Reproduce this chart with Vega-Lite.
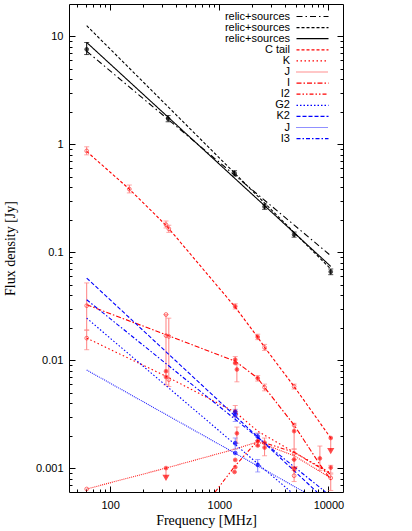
{
  "$schema": "https://vega.github.io/schema/vega-lite/v6.json",
  "width": 274,
  "height": 488,
  "autosize": {"type": "none"},
  "padding": {"left": 69, "top": 4, "right": 69, "bottom": 39},
  "background": "white",
  "config": {
    "view": {"stroke": "black", "strokeWidth": 1},
    "axis": {"grid": false, "domain": false, "tickColor": "black", "tickWidth": 1, "labelColor": "black", "labelFont": "Liberation Sans", "labelFontSize": 11, "titleColor": "black", "titleFont": "Liberation Serif", "titleFontSize": 14, "titleFontWeight": "normal"}
  },
  "datasets": {
    "lines": [
      {"s": "01 relic+sources", "f": 61, "y": 7.3},
      {"s": "01 relic+sources", "f": 10500, "y": 0.093},
      {"s": "02 relic+sources", "f": 61, "y": 12.6},
      {"s": "02 relic+sources", "f": 10500, "y": 0.070},
      {"s": "03 relic+sources", "f": 61, "y": 8.8},
      {"s": "03 relic+sources", "f": 10500, "y": 0.074},
      {"s": "04 C tail", "f": 61, "y": 0.86},
      {"s": "04 C tail", "f": 150, "y": 0.385},
      {"s": "04 C tail", "f": 330, "y": 0.175},
      {"s": "04 C tail", "f": 1400, "y": 0.031},
      {"s": "04 C tail", "f": 2250, "y": 0.0163},
      {"s": "04 C tail", "f": 2600, "y": 0.0132},
      {"s": "04 C tail", "f": 4850, "y": 0.0057},
      {"s": "04 C tail", "f": 10500, "y": 0.0019},
      {"s": "05 K", "f": 61, "y": 0.016},
      {"s": "05 K", "f": 325, "y": 0.0071},
      {"s": "05 K", "f": 741, "y": 0.0046},
      {"s": "05 K", "f": 1400, "y": 0.0033},
      {"s": "05 K", "f": 2250, "y": 0.0022},
      {"s": "05 K", "f": 4850, "y": 0.0014},
      {"s": "05 K", "f": 10500, "y": 0.0009},
      {"s": "06 J", "f": 61, "y": 0.00064},
      {"s": "06 J", "f": 325, "y": 0.001},
      {"s": "06 J", "f": 1400, "y": 0.0015},
      {"s": "06 J", "f": 2250, "y": 0.00175},
      {"s": "06 J", "f": 4850, "y": 0.0013},
      {"s": "06 J", "f": 10500, "y": 0.00081},
      {"s": "07 I", "f": 61, "y": 0.0326},
      {"s": "07 I", "f": 325, "y": 0.0172},
      {"s": "07 I", "f": 741, "y": 0.0125},
      {"s": "07 I", "f": 1400, "y": 0.0098},
      {"s": "07 I", "f": 2250, "y": 0.0068},
      {"s": "07 I", "f": 2600, "y": 0.0056},
      {"s": "07 I", "f": 4850, "y": 0.0025},
      {"s": "07 I", "f": 8350, "y": 0.00108},
      {"s": "07 I", "f": 10500, "y": 0.00078},
      {"s": "08 I2", "f": 916, "y": 0.0006},
      {"s": "08 I2", "f": 1400, "y": 0.00105},
      {"s": "08 I2", "f": 2250, "y": 0.0018},
      {"s": "08 I2", "f": 4850, "y": 0.0014},
      {"s": "08 I2", "f": 10500, "y": 0.00088},
      {"s": "09 G2", "f": 61, "y": 0.0245},
      {"s": "09 G2", "f": 4550, "y": 0.0006},
      {"s": "10 K2", "f": 61, "y": 0.0577},
      {"s": "10 K2", "f": 7850, "y": 0.0006},
      {"s": "11 J", "f": 61, "y": 0.0081},
      {"s": "11 J", "f": 6000, "y": 0.0006},
      {"s": "12 I3", "f": 61, "y": 0.0363},
      {"s": "12 I3", "f": 9400, "y": 0.0006}
    ],
    "pts": [
      {"f": 61, "y": 7.6, "lo": 6.8, "hi": 8.8, "c": "k"},
      {"f": 340, "y": 1.73, "lo": 1.62, "hi": 1.85, "c": "k"},
      {"f": 1380, "y": 0.54, "lo": 0.51, "hi": 0.57, "c": "k"},
      {"f": 2600, "y": 0.265, "lo": 0.25, "hi": 0.28, "c": "k"},
      {"f": 4850, "y": 0.146, "lo": 0.138, "hi": 0.154, "c": "k"},
      {"f": 10500, "y": 0.066, "lo": 0.062, "hi": 0.070, "c": "k"},
      {"f": 61, "y": 0.87, "lo": 0.80, "hi": 0.95, "c": "r", "o": true},
      {"f": 150, "y": 0.385, "lo": 0.355, "hi": 0.42, "c": "r", "o": true},
      {"f": 325, "y": 0.18, "lo": 0.168, "hi": 0.195, "c": "r", "o": true},
      {"f": 345, "y": 0.165, "lo": 0.153, "hi": 0.178, "c": "r", "o": true},
      {"f": 1400, "y": 0.0315, "lo": 0.0298, "hi": 0.0333, "c": "r"},
      {"f": 2250, "y": 0.0164, "lo": 0.0155, "hi": 0.0174, "c": "r"},
      {"f": 2600, "y": 0.0131, "lo": 0.0123, "hi": 0.014, "c": "r", "o": true},
      {"f": 4850, "y": 0.0057, "lo": 0.0054, "hi": 0.006, "c": "r", "o": true},
      {"f": 10500, "y": 0.0019, "lo": 0.00145, "hi": 0.0019, "c": "r", "ul": true},
      {"f": 61, "y": 0.032, "lo": 0.019, "hi": 0.052, "c": "r", "o": true},
      {"f": 61, "y": 0.016, "lo": 0.0125, "hi": 0.019, "c": "r", "o": true},
      {"f": 325, "y": 0.0265, "c": "r", "o": true},
      {"f": 325, "y": 0.0169, "lo": 0.0059, "hi": 0.0265, "c": "r", "o": true},
      {"f": 345, "y": 0.0166, "lo": 0.0057, "hi": 0.0245, "c": "r", "o": true},
      {"f": 325, "y": 0.0079, "c": "r"},
      {"f": 325, "y": 0.007, "c": "r"},
      {"f": 345, "y": 0.0066, "c": "r", "o": true},
      {"f": 325, "y": 0.001, "lo": 0.00082, "hi": 0.001, "c": "r", "ul": true},
      {"f": 61, "y": 0.00064, "c": "r", "o": true},
      {"f": 1400, "y": 0.0101, "lo": 0.0094, "hi": 0.0108, "c": "r"},
      {"f": 1400, "y": 0.0094, "c": "r"},
      {"f": 1450, "y": 0.0082, "lo": 0.0063, "hi": 0.0092, "c": "r"},
      {"f": 2250, "y": 0.0068, "lo": 0.0064, "hi": 0.0072, "c": "r"},
      {"f": 2600, "y": 0.0056, "lo": 0.0052, "hi": 0.006, "c": "r", "o": true},
      {"f": 4850, "y": 0.0022, "lo": 0.0015, "hi": 0.0026, "c": "r"},
      {"f": 4850, "y": 0.0025, "c": "r", "o": true},
      {"f": 1400, "y": 0.00335, "lo": 0.003, "hi": 0.0038, "c": "r"},
      {"f": 1450, "y": 0.0021, "lo": 0.0017, "hi": 0.0024, "c": "r"},
      {"f": 1400, "y": 0.00119, "c": "r"},
      {"f": 1400, "y": 0.00102, "c": "r"},
      {"f": 1380, "y": 0.00092, "c": "r"},
      {"f": 2250, "y": 0.00178, "lo": 0.0016, "hi": 0.0021, "c": "r"},
      {"f": 2250, "y": 0.00162, "c": "r"},
      {"f": 2600, "y": 0.00172, "lo": 0.0013, "hi": 0.0019, "c": "r"},
      {"f": 2600, "y": 0.00155, "c": "r"},
      {"f": 4850, "y": 0.00137, "lo": 0.0012, "hi": 0.0015, "c": "r", "o": true},
      {"f": 4850, "y": 0.0012, "lo": 0.00098, "hi": 0.0012, "c": "r", "ul": true},
      {"f": 4850, "y": 0.00085, "lo": 0.00075, "hi": 0.00095, "c": "r", "o": true},
      {"f": 8350, "y": 0.00123, "lo": 0.00095, "hi": 0.0016, "c": "r"},
      {"f": 10500, "y": 0.00101, "lo": 0.0009, "hi": 0.00106, "c": "r"},
      {"f": 10500, "y": 0.00081, "lo": 0.00062, "hi": 0.00088, "c": "r", "o": true},
      {"f": 1400, "y": 0.0031, "lo": 0.0027, "hi": 0.0035, "c": "b"},
      {"f": 1400, "y": 0.0033, "c": "b"},
      {"f": 1400, "y": 0.0017, "lo": 0.0015, "hi": 0.0019, "c": "b"},
      {"f": 1400, "y": 0.00138, "c": "b"},
      {"f": 2250, "y": 0.00196, "lo": 0.0018, "hi": 0.0021, "c": "b"},
      {"f": 2250, "y": 0.00107, "lo": 0.00092, "hi": 0.0012, "c": "b"}
    ]
  },
  "resolve": {"scale": {"x": "independent", "y": "independent"}},
  "layer": [
    {
      "data": {"name": "pts"},
      "transform": [{"filter": "isValid(datum.lo)"}],
      "mark": {"type": "rule", "strokeWidth": 1},
      "encoding": {
        "x": {"field": "f", "type": "quantitative", "scale": {"type": "log", "domain": [42, 13600], "nice": false},
          "axis": {"orient": "bottom", "values": [50, 60, 70, 80, 90, 200, 300, 400, 500, 600, 700, 800, 900, 2000, 3000, 4000, 5000, 6000, 7000, 8000, 9000], "labels": false, "tickSize": -3, "title": null}},
        "y": {"field": "lo", "type": "quantitative", "scale": {"type": "log", "domain": [0.0006, 20], "nice": false},
          "axis": {"orient": "left", "values": [0.0007, 0.0008, 0.0009, 0.002, 0.003, 0.004, 0.005, 0.006, 0.007, 0.008, 0.009, 0.02, 0.03, 0.04, 0.05, 0.06, 0.07, 0.08, 0.09, 0.2, 0.3, 0.4, 0.5, 0.6, 0.7, 0.8, 0.9, 2, 3, 4, 5, 6, 7, 8, 9], "labels": false, "tickSize": -3, "title": null}},
        "y2": {"field": "hi"},
        "color": {"condition": [{"test": "datum.c === 'r'", "value": "#ff8080"}, {"test": "datum.c === 'b'", "value": "#8080ff"}], "value": "#000000"}
      }
    },
    {
      "data": {"name": "pts"},
      "transform": [{"filter": "isValid(datum.lo) && !datum.ul"}],
      "mark": {"type": "tick", "orient": "horizontal", "size": 5, "thickness": 1},
      "encoding": {
        "x": {"field": "f", "type": "quantitative", "scale": {"type": "log", "domain": [42, 13600], "nice": false},
          "axis": {"orient": "top", "values": [100, 1000, 10000], "labels": false, "tickSize": -6, "title": null}},
        "y": {"field": "lo", "type": "quantitative", "scale": {"type": "log", "domain": [0.0006, 20], "nice": false},
          "axis": {"orient": "right", "values": [0.001, 0.01, 0.1, 1, 10], "labels": false, "tickSize": -6, "title": null}},
        "color": {"condition": [{"test": "datum.c === 'r'", "value": "#ff8080"}, {"test": "datum.c === 'b'", "value": "#8080ff"}], "value": "#000000"}
      }
    },
    {
      "data": {"name": "pts"},
      "transform": [{"filter": "isValid(datum.hi) && !datum.ul"}],
      "mark": {"type": "tick", "orient": "horizontal", "size": 5, "thickness": 1},
      "encoding": {
        "x": {"field": "f", "type": "quantitative", "scale": {"type": "log", "domain": [42, 13600], "nice": false},
          "axis": {"orient": "top", "values": [50, 60, 70, 80, 90, 200, 300, 400, 500, 600, 700, 800, 900, 2000, 3000, 4000, 5000, 6000, 7000, 8000, 9000], "labels": false, "tickSize": -3, "title": null}},
        "y": {"field": "hi", "type": "quantitative", "scale": {"type": "log", "domain": [0.0006, 20], "nice": false},
          "axis": {"orient": "right", "values": [0.0007, 0.0008, 0.0009, 0.002, 0.003, 0.004, 0.005, 0.006, 0.007, 0.008, 0.009, 0.02, 0.03, 0.04, 0.05, 0.06, 0.07, 0.08, 0.09, 0.2, 0.3, 0.4, 0.5, 0.6, 0.7, 0.8, 0.9, 2, 3, 4, 5, 6, 7, 8, 9], "labels": false, "tickSize": -3, "title": null}},
        "color": {"condition": [{"test": "datum.c === 'r'", "value": "#ff8080"}, {"test": "datum.c === 'b'", "value": "#8080ff"}], "value": "#000000"}
      }
    },
    {
      "data": {"name": "lines"},
      "mark": {"type": "line", "clip": true, "strokeWidth": 1.1},
      "encoding": {
        "x": {"field": "f", "type": "quantitative", "scale": {"type": "log", "domain": [42, 13600], "nice": false},
          "axis": {"orient": "bottom", "values": [100, 1000, 10000], "format": "d", "tickSize": -6, "labelPadding": 13, "title": "Frequency [MHz]", "titlePadding": 3}},
        "y": {"field": "y", "type": "quantitative", "scale": {"type": "log", "domain": [0.0006, 20], "nice": false},
          "axis": {"orient": "left", "values": [0.001, 0.01, 0.1, 1, 10], "format": "~g", "tickSize": -6, "labelPadding": 12, "title": "Flux density [Jy]", "titlePadding": 18}},
        "stroke": {"field": "s", "type": "nominal",
          "scale": {"domain": ["01 relic+sources", "02 relic+sources", "03 relic+sources", "04 C tail", "05 K", "06 J", "07 I", "08 I2", "09 G2", "10 K2", "11 J", "12 I3"],
            "range": ["#000000", "#000000", "#000000", "#ff0000", "#ff0000", "#ff2020", "#ff0000", "#ff0000", "#0000ff", "#0000ff", "#2020ff", "#0000ff"]},
          "legend": {"orient": "none", "legendX": 238, "legendY": 7, "title": null, "symbolType": "M-4,0H4", "symbolSize": 64, "symbolStrokeWidth": 1.2, "labelAlign": "right", "labelOffset": -28, "labelFont": "Liberation Sans", "labelFontSize": 11, "labelColor": "black", "rowPadding": -0.9, "padding": 0, "labelLimit": 200, "labelExpr": "slice(datum.label, 3)"}},
        "strokeDash": {"field": "s", "type": "nominal",
          "scale": {"domain": ["01 relic+sources", "02 relic+sources", "03 relic+sources", "04 C tail", "05 K", "06 J", "07 I", "08 I2", "09 G2", "10 K2", "11 J", "12 I3"],
            "range": [[6, 3, 1.5, 3], [3, 2], [1, 0], [3, 2], [1.5, 2.5], [1, 1], [5, 2, 1.5, 2], [4, 2, 1.5, 2, 1.5, 2], [1.5, 2], [4, 2], [1, 1], [4, 2, 1.5, 2]]}}
      }
    },
    {
      "data": {"name": "pts"},
      "mark": {"type": "point", "shape": "circle", "size": 14, "strokeWidth": 1, "filled": true},
      "encoding": {
        "x": {"field": "f", "type": "quantitative", "scale": {"type": "log", "domain": [42, 13600], "nice": false}, "axis": null},
        "y": {"field": "y", "type": "quantitative", "scale": {"type": "log", "domain": [0.0006, 20], "nice": false}, "axis": null},
        "fill": {"condition": [{"test": "datum.o", "value": "transparent"}, {"test": "datum.c === 'r'", "value": "#ff0000"}, {"test": "datum.c === 'b'", "value": "#0000ff"}], "value": "#000000"},
        "stroke": {"condition": [{"test": "datum.c === 'r'", "value": "#ff3030"}, {"test": "datum.c === 'b'", "value": "#0000ff"}], "value": "#000000"}
      }
    },
    {
      "data": {"name": "pts"},
      "transform": [{"filter": "datum.ul"}],
      "mark": {"type": "point", "shape": "triangle-down", "size": 14, "filled": true},
      "encoding": {
        "x": {"field": "f", "type": "quantitative", "scale": {"type": "log", "domain": [42, 13600], "nice": false}, "axis": null},
        "y": {"field": "lo", "type": "quantitative", "scale": {"type": "log", "domain": [0.0006, 20], "nice": false}, "axis": null},
        "fill": {"value": "#ff0000"},
        "stroke": {"value": "#ff0000"}
      }
    }
  ]
}
